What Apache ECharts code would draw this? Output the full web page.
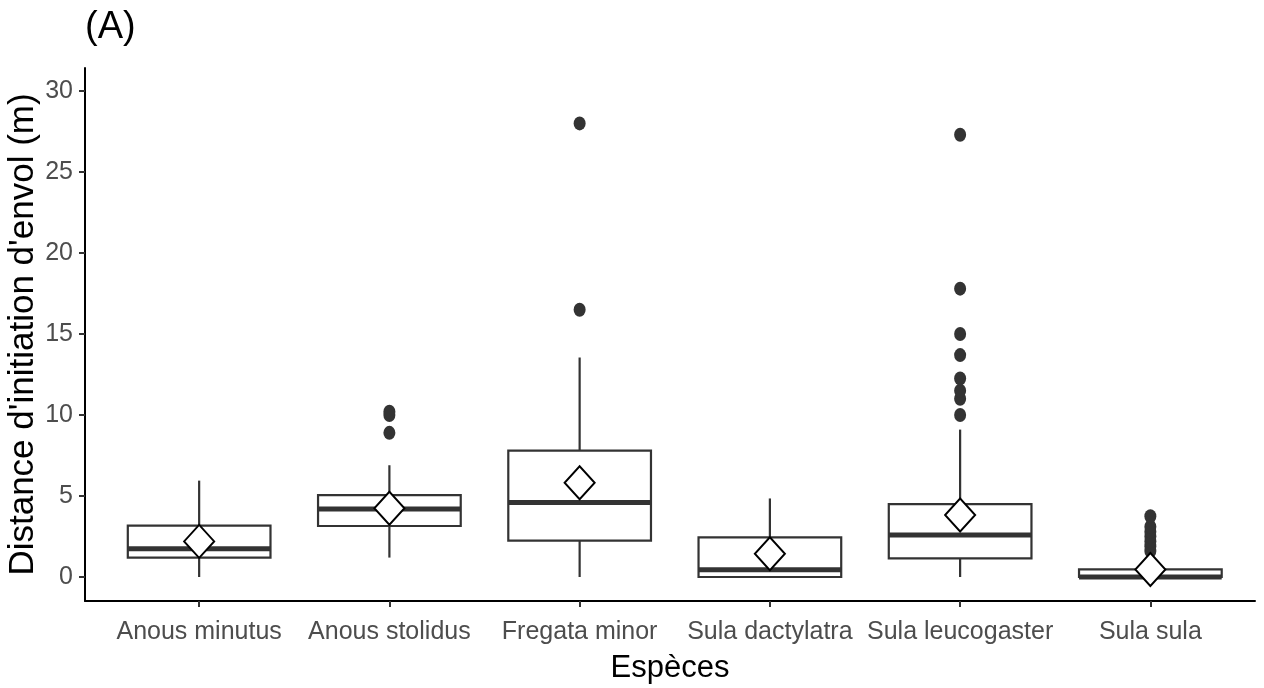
<!DOCTYPE html>
<html>
<head>
<meta charset="utf-8">
<script src="https://cdn.jsdelivr.net/npm/echarts@6/dist/echarts.min.js"></script>
<style>
  html, body { margin: 0; padding: 0; background: #fff; }
  #chart { width: 1264px; height: 688px; }
</style>
</head>
<body>
<div id="chart"></div>
<script>
// boxplot stats (m)
var species = ['Anous minutus', 'Anous stolidus', 'Fregata minor', 'Sula dactylatra', 'Sula leucogaster', 'Sula sula'];
var whiskerLow  = [0,    1.2,  0,     0,    0,    0];
var q1          = [1.2,  3.15, 2.25,  0,    1.15, 0];
var median      = [1.75, 4.2,  4.6,   0.45, 2.6,  0];
var q3          = [3.17, 5.05, 7.8,   2.45, 4.5,  0.47];
var whiskerHigh = [5.95, 6.9,  13.55, 4.85, 9.1,  1.25];
var means       = [2.2,  4.25, 5.82,  1.43, 3.83, 0.47];
var outliers = [
    [],
    [8.9, 10.0, 10.2],
    [16.5, 28.0],
    [],
    [10.0, 11.0, 11.5, 12.25, 13.7, 15.0, 17.8, 27.3],
    [1.6, 1.9, 2.2, 2.5, 2.8, 3.1, 3.75]
];
var yTicks = [0, 5, 10, 15, 20, 25, 30];
var xTicks = [0, 1, 2, 3, 4, 5];

var narrow = '"Liberation Sans Narrow", "Arial Narrow", "Liberation Sans", sans-serif';
var normal = '"Liberation Sans", Arial, sans-serif';

var boxData = species.map(function (s, i) {
    return [i, whiskerLow[i], q1[i], median[i], q3[i], whiskerHigh[i]];
});
var outlierData = [];
outliers.forEach(function (arr, i) {
    arr.forEach(function (v) { outlierData.push([i, v]); });
});
var meanData = means.map(function (m, i) { return [i, m]; });

function renderBox(params, api) {
    var x = api.value(0);
    var lo = api.coord([x, api.value(1)]);
    var b1 = api.coord([x, api.value(2)]);
    var md = api.coord([x, api.value(3)]);
    var b3 = api.coord([x, api.value(4)]);
    var hi = api.coord([x, api.value(5)]);
    var w = api.size([0.75, 0])[0];
    var stroke = '#333333';
    return {
        type: 'group',
        children: [
            { type: 'line', shape: { x1: hi[0], y1: hi[1], x2: b3[0], y2: b3[1] }, style: { stroke: stroke, lineWidth: 2.2 } },
            { type: 'line', shape: { x1: b1[0], y1: b1[1], x2: lo[0], y2: lo[1] }, style: { stroke: stroke, lineWidth: 2.2 } },
            { type: 'rect', shape: { x: b3[0] - w / 2, y: b3[1], width: w, height: b1[1] - b3[1] },
              style: { fill: '#ffffff', stroke: stroke, lineWidth: 2.2 } },
            { type: 'line', shape: { x1: md[0] - w / 2, y1: md[1], x2: md[0] + w / 2, y2: md[1] }, style: { stroke: stroke, lineWidth: 5 } }
        ]
    };
}

var chart = echarts.init(document.getElementById('chart'));
chart.setOption({
    backgroundColor: '#ffffff',
    animation: false,
    title: {
        text: '(A)',
        left: 80,
        top: 4,
        textStyle: { fontFamily: narrow, fontSize: 38, fontWeight: 'normal', color: '#000' }
    },
    grid: { left: 85, right: 9, top: 68, bottom: 87, containLabel: false, outerBoundsMode: 'none' },
    xAxis: {
        type: 'value',
        min: -0.6,
        max: 5.55,
        name: 'Espèces',
        nameLocation: 'middle',
        nameGap: 52,
        nameMoveOverlap: false,
        nameTextStyle: { fontFamily: narrow, fontSize: 31, color: '#000' },
        axisLine: { onZero: false, lineStyle: { color: '#000', width: 2 } },
        axisTick: { customValues: xTicks, length: 6, lineStyle: { color: '#333', width: 2 } },
        axisLabel: {
            customValues: xTicks,
            margin: 19,
            fontFamily: narrow,
            fontSize: 25,
            color: '#4d4d4d',
            formatter: function (v) { return species[Math.round(v)]; }
        },
        splitLine: { show: false }
    },
    yAxis: {
        type: 'value',
        min: -1.48,
        max: 31.42,
        name: "Distance d'initiation d'envol (m)",
        nameLocation: 'middle',
        nameGap: 44,
        nameMoveOverlap: false,
        nameTextStyle: { fontFamily: normal, fontSize: 35, color: '#000' },
        axisLine: { onZero: false, lineStyle: { color: '#000', width: 2 } },
        axisTick: { customValues: yTicks, length: 6, lineStyle: { color: '#333', width: 2 } },
        axisLabel: {
            customValues: yTicks,
            margin: 12,
            fontFamily: narrow,
            fontSize: 25,
            color: '#4d4d4d'
        },
        splitLine: { show: false }
    },
    series: [
        {
            type: 'scatter',
            data: outlierData,
            symbol: 'circle',
            symbolSize: [12, 14],
            itemStyle: { color: '#333333', opacity: 1 },
            z: 1
        },
        {
            type: 'custom',
            data: boxData,
            renderItem: renderBox,
            encode: { x: 0, y: [1, 2, 3, 4, 5] },
            z: 2
        },
        {
            type: 'scatter',
            data: meanData,
            symbol: 'diamond',
            symbolSize: [30, 33],
            itemStyle: { color: '#ffffff', borderColor: '#000000', borderWidth: 2, opacity: 1 },
            z: 3
        }
    ]
});
</script>
</body>
</html>
